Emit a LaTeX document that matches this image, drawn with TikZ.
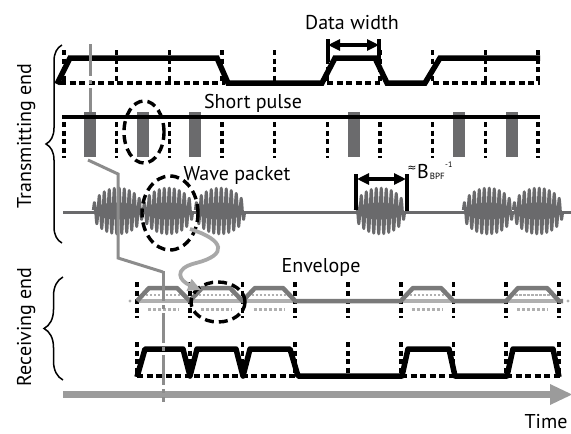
\documentclass[tikz,border=0pt]{standalone}
\usepackage{fontspec}
\setmainfont{PT Sans}
\newfontfamily\dejavu{DejaVu Sans}
\usetikzlibrary{arrows.meta,decorations.pathreplacing,calc}
\definecolor{pulsegray}{HTML}{6B6B6D}
\definecolor{wavegray}{HTML}{6A6A6C}
\definecolor{linkgray}{HTML}{8C8C8C}
\definecolor{curvegray}{HTML}{A8A8A8}
\definecolor{timegray}{HTML}{9B9B9B}
\definecolor{envgray}{HTML}{7A7A7A}
\definecolor{dotgray}{HTML}{B0B0B0}
\begin{document}
\begin{tikzpicture}[x=1pt,y=-1pt,
  sig/.style={line width=5.5pt},
  dashv/.style={line width=3.6pt, dash pattern=on 5pt off 3.5pt},
  dashh/.style={line width=3.4pt, dash pattern=on 6pt off 3.5pt},
  dashel/.style={line width=3.4pt, dash pattern=on 9pt off 5pt},
  lbl/.style={font=\fontsize{20}{20}\selectfont, inner sep=0pt},
  dimarrow/.style={line width=3.4pt, {Triangle[length=12pt,width=11pt]}-{Triangle[length=12pt,width=11pt]}},
  bar/.style={line width=3.4pt}]
\useasboundingbox (0,0) rectangle (571,434);

% ---------- labels ----------
\node[lbl, anchor=base] (dw) at (352,29) {Data width};
\node[lbl, anchor=base] (sp) at (253,108) {Short pulse};
\node[lbl, anchor=base] (wp) at (237,180) {Wave packet};
\node[lbl, anchor=base] (env) at (321,272) {Envelope};
\node[lbl, anchor=base] (time) at (546,428) {Time};
\node[lbl, anchor=base, rotate=90] (tx) at (31,136) {Transmitting end};
\node[lbl, anchor=base, rotate=90] (rx) at (31,327) {Receiving end};
\node[font=\dejavu\fontsize{11}{11}\selectfont, inner sep=0pt] (approx) at (412,169) {≈};
\node[lbl, anchor=base west] (bB) at (417,178) {B};
\node[font=\fontsize{9}{9}\selectfont, inner sep=0pt, anchor=base west] (bsub) at ($(bB.base east)+(0.5,1)$) {BPF};
\node[font=\fontsize{8}{8}\selectfont, inner sep=0pt, anchor=base west] (bsup) at (445,167) {-1};

% ---------- braces ----------
\draw[line width=1.5pt, decorate, decoration={brace, amplitude=16pt}] (62,243) -- (62,45);
\draw[line width=1.5pt, decorate, decoration={brace, amplitude=19pt}] (63,380) -- (63,277);

% ---------- transmit data row ----------
\foreach \k in {0,...,9} \draw[dashv] ({64+52.67*\k},50) -- ({64+52.67*\k},83);
\draw[dashh] (60,83) -- (225,83);
\draw[dashh] (327,83) -- (380,83);
\draw[dashh] (433,83) -- (540,83);
\draw[sig] (57,84) -- (70,58) -- (217,58) -- (228,83) -- (322,83) -- (335,58) -- (375,58) -- (387,83) -- (425,83) -- (440,58) -- (540,58);
\coordinate (dwL) at (328,45);
\coordinate (dwR) at (379,45);
\draw[bar] (328,39) -- (328,62);
\draw[bar] (379,39) -- (379,60);
\draw[dimarrow] (dwL) -- (dwR);

% ---------- short pulse row ----------
\foreach \k in {0,...,9} \draw[dashv] ({64+52.67*\k},122) -- ({64+52.67*\k},158);
\foreach \c in {90,143,195,354,459,512} \fill[pulsegray] (\c-6,112) rectangle (\c+6,157);
\draw[line width=3.6pt] (62,117) -- (540,117);
\draw[dashel] (144,132) ellipse [x radius=20pt, y radius=31pt];

% ---------- wave packet row ----------
\draw[wavegray, line width=3pt] (63,212) -- (571,212);
\foreach \s in {93,143,195,355,463,513}
  \draw[wavegray, line width=2.6pt, line join=round] plot[domain=0.2:49.8, samples=220] ({\s+\x}, {211 - 23*(sin(3.6*\x))^0.4*sin(72*\x)});
\draw[dashel] (170,213) ellipse [x radius=28pt, y radius=37pt];
\coordinate (bpfL) at (357,179);
\coordinate (bpfR) at (406,179);
\draw[line width=3.4pt] (356,174) -- (356,210);
\draw[line width=3.4pt] (407,174) -- (407,211);
\draw[dimarrow] (bpfL) -- (bpfR);

% ---------- time arrow ----------
\draw[timegray, line width=7pt] (63,394) -- (553,394);
\fill[timegray] (550,384) -- (572,394.5) -- (550,405) -- cycle;

% ---------- envelope row ----------
\foreach \b in {137,189.75,242.5,400.75,506.25} {
  \draw[dotgray, line width=3.4pt] (\b+2,301) -- (\b+51,301);
  \draw[dotgray, line width=2.4pt, dash pattern=on 2.4pt off 1.6pt] (\b+9,295) -- (\b+44,295);
  \draw[dotgray, line width=3pt, dash pattern=on 3pt off 2pt] (\b+11,309) -- (\b+42,309);
}
\fill[dotgray] (130,301) circle (1.6pt);
\fill[dotgray] (568,301) circle (1.6pt);
\foreach \k in {0,...,8} \draw[dashv] ({137+52.75*\k},282) -- ({137+52.75*\k},318);
\draw[envgray, line width=4.5pt, line join=round] (137,301) -- (149,288) -- (177,288) -- (189.75,301) -- (202,288) -- (230,288) -- (242.5,301) -- (255,288) -- (283,288) -- (295.25,301) -- (400.75,301) -- (413,288) -- (441,288) -- (453.5,301) -- (506.25,301) -- (518,288) -- (547,288) -- (559,301) -- (563,301);
\draw[dashel] (218,302) ellipse [x radius=27pt, y radius=20pt];

% ---------- receiving output row ----------
\foreach \k in {0,...,8} \draw[dashv] ({137+52.75*\k},342) -- ({137+52.75*\k},376);
\draw[dashh] (137,376) -- (298,376);
\draw[dashh] (401,376) -- (455,376);
\draw[dashh] (506,376) -- (560,376);
\draw[sig, line join=round] (137,377) -- (145,349) -- (183,349) -- (190,376) -- (197,349) -- (236,349) -- (243,376) -- (250,349) -- (290,349) -- (298,376) -- (402,376) -- (408,349) -- (449,349) -- (455,376) -- (507,376) -- (513,349) -- (553,349) -- (559,377);

% ---------- connectors ----------
\draw[linkgray, line width=3pt, dash pattern=on 32pt off 4pt on 4pt off 4pt] (90,44) -- (90,112);
\draw[linkgray, line width=3pt] (88,160) -- (118,174) -- (118,258) -- (163,272);
\draw[linkgray, line width=3pt, dash pattern=on 30pt off 4pt on 4pt off 4pt] (163,271) -- (163,402);
\draw[curvegray, line width=3.8pt, -{Triangle[length=13pt,width=12pt]}] (190,229) .. controls (225,240) and (228,255) .. (196,263) .. controls (172,269) and (180,281) .. (201,290);
\end{tikzpicture}
\end{document}
